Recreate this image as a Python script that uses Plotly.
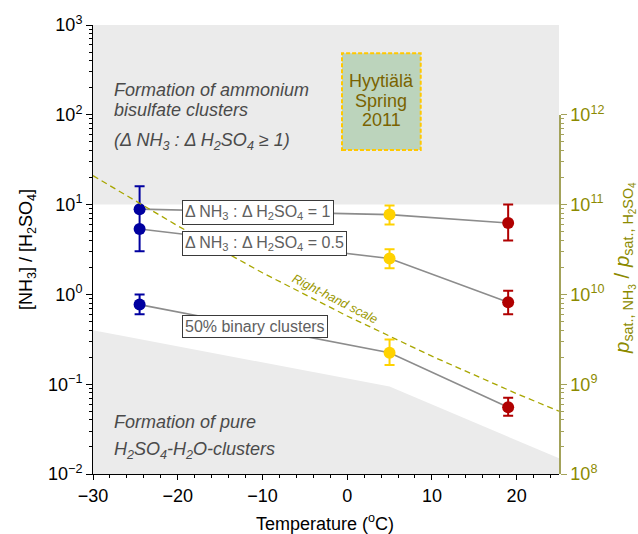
import plotly.graph_objects as go

# ---------------- data ----------------
temps = [-24.5, 5, 19]
marker_colors = ["#0000a0", "#ffd200", "#b00000"]

ratio_1 = [8.9, 7.74, 6.25]          # ΔNH3:ΔH2SO4 = 1
ratio_1_hi = [16.0, 9.8, 10.0]
ratio_1_lo = [5.35, 6.0, 3.98]

ratio_05 = [5.35, 2.51, 0.82]        # ΔNH3:ΔH2SO4 = 0.5
ratio_05_hi = [5.35, 3.19, 1.1]
ratio_05_lo = [3.03, 1.95, 0.6]

binary50 = [0.77, 0.224, 0.0555]     # 50% binary clusters
binary50_hi = [1.0, 0.315, 0.0705]
binary50_lo = [0.6, 0.164, 0.0445]

psat_temps = [-30, -20, -10, 0, 10, 20, 25]
psat_ratio = [2.1e11, 5.8e10, 1.74e10, 5.75e9, 2.05e9, 7.85e8, 5.0e8]

bisulfate_x = [-30, 25, 25, -30]
bisulfate_y = [10, 10, 1000, 1000]
pure_x = [-30, 5, 25, 25, -30]
pure_y = [0.4, 0.094, 0.015, 0.01, 0.01]

left_tickvals = [1e-2, 1e-1, 1e0, 1e1, 1e2, 1e3]
left_ticktext = ["10<sup>\u22122</sup>", "10<sup>\u22121</sup>", "10<sup>0</sup>",
                 "10<sup>1</sup>", "10<sup>2</sup>", "10<sup>3</sup>"]
right_tickvals = [1e8, 1e9, 1e10, 1e11, 1e12]
right_ticktext = ["10<sup>8</sup>", "10<sup>9</sup>", "10<sup>10</sup>",
                  "10<sup>11</sup>", "10<sup>12</sup>"]

# ---------------- styling ----------------
FONT = "Liberation Sans, Arial, sans-serif"
OLIVE = "#8c8a00"
OLIVE_AX = "#a3a25a"
GRAY_FILL = "#ebebeb"
LINE_GRAY = "#8c8c8c"
TXT_GRAY = "#4a4a4a"

L, R, T, B = 93, 559, 25, 474
W, H = 638, 534


def px(x):
    return (x - L) / (R - L)


def py(y):
    return (B - y) / (B - T)


fig = go.Figure()

# gray regions
fig.add_trace(go.Scatter(x=bisulfate_x, y=bisulfate_y, mode="none", fill="toself",
                         fillcolor=GRAY_FILL, hoverinfo="skip", showlegend=False))
fig.add_trace(go.Scatter(x=pure_x, y=pure_y, mode="none", fill="toself",
                         fillcolor=GRAY_FILL, hoverinfo="skip", showlegend=False))

# right-hand scale dashed line (drawn before markers)
fig.add_trace(go.Scatter(x=psat_temps, y=psat_ratio, mode="lines", yaxis="y2",
                         line=dict(color="#a8a600", width=1.3, dash="6px,4px"),
                         hoverinfo="skip", showlegend=False))

# connecting gray lines
for series in (ratio_1, ratio_05, binary50):
    fig.add_trace(go.Scatter(x=temps, y=series, mode="lines",
                             line=dict(color=LINE_GRAY, width=1.6),
                             hoverinfo="skip", showlegend=False))

# points with error bars, grouped by temperature (one colour each)
for i, col in enumerate(marker_colors):
    ys = [ratio_1[i], ratio_05[i], binary50[i]]
    his = [ratio_1_hi[i], ratio_05_hi[i], binary50_hi[i]]
    los = [ratio_1_lo[i], ratio_05_lo[i], binary50_lo[i]]
    fig.add_trace(go.Scatter(
        x=[temps[i]] * 3, y=ys, mode="markers",
        marker=dict(color=col, size=12, line=dict(width=0)),
        error_y=dict(type="data", symmetric=False,
                     array=[h - y for h, y in zip(his, ys)],
                     arrayminus=[y - l for y, l in zip(ys, los)],
                     color=col, thickness=2, width=5),
        showlegend=False))

annotations = []


def ann(text, x, y, size=18, color="black", xanchor="left", **kw):
    d = dict(text=text, x=x, y=y, xref="paper", yref="paper", showarrow=False,
             xanchor=xanchor, yanchor="middle",
             font=dict(family=FONT, size=size, color=color))
    d.update(kw)
    annotations.append(d)


# axis titles
ann("[NH<sub>3</sub>] / [H<sub>2</sub>SO<sub>4</sub>]", px(27), py(250),
    xanchor="center", textangle=-90)
ann("Temperature (<sup>o</sup>C)", px(325), py(522), xanchor="center")
ann("<i>p</i><sub>sat., NH<sub>3</sub></sub> / <i>p</i><sub>sat., H<sub>2</sub>SO<sub>4</sub></sub>",
    px(624), py(268), size=20.5, color=OLIVE, xanchor="center", textangle=-90)

# region labels
ann("<i>Formation of ammonium</i>", px(112), py(90.5), color=TXT_GRAY)
ann("<i>bisulfate clusters</i>", px(112), py(110.5), color=TXT_GRAY)
ann("<i>(\u0394 NH<sub>3</sub> : \u0394 H<sub>2</sub>SO<sub>4</sub> \u2265 1)</i>",
    px(112), py(141), color=TXT_GRAY)
ann("<i>Formation of pure</i>", px(112), py(421.8), color=TXT_GRAY)
ann("<i>H<sub>2</sub>SO<sub>4</sub>-H<sub>2</sub>O-clusters</i>", px(112), py(450),
    color=TXT_GRAY)

# boxed labels
box = dict(bgcolor="white", bordercolor="#3a3a3a", borderwidth=1, borderpad=2)
ann("\u0394 NH<sub>3</sub> : \u0394 H<sub>2</sub>SO<sub>4</sub> = 1", px(182), py(212),
    size=16, color="#606060", **box)
ann("\u0394 NH<sub>3</sub> : \u0394 H<sub>2</sub>SO<sub>4</sub> = 0.5", px(182), py(243),
    size=16, color="#606060", **box)
ann("50% binary clusters", px(182), py(326.5), size=16, color="#606060", **box)

# Hyytiälä box text
for txt, yy in (("Hyytiälä", 80.5), ("Spring", 100.5), ("2011", 120)):
    ann(txt, px(381.3), py(yy), color="#7a6300", xanchor="center")

# right-hand scale label
ann("<i>Right-hand scale</i>", px(335), py(299), size=12.5, color="#9a9800",
    xanchor="center", textangle=27)

shapes = [dict(type="rect", xref="paper", yref="paper",
               x0=px(342), x1=px(420.7), y0=py(150), y1=py(53.3),
               fillcolor="#bcd4bc", line=dict(color="#ffc800", width=2, dash="4px,2px"),
               layer="above")]

minor_left = [k * 10 ** e for e in range(-2, 3) for k in range(2, 10)]
minor_right = [k * 10 ** e for e in range(8, 12) for k in range(2, 10)]

fig.update_layout(
    width=W, height=H,
    margin=dict(l=L, r=W - R, t=T, b=H - B),
    paper_bgcolor="white", plot_bgcolor="rgba(0,0,0,0)",
    font=dict(family=FONT, size=18, color="black"),
    showlegend=False,
    xaxis=dict(range=[-30, 25], showline=True, linecolor="black", linewidth=1,
               ticks="outside", ticklen=5, tickwidth=1, tickcolor="black",
               dtick=10, tick0=0, showgrid=False, zeroline=False,
               tickfont=dict(size=18),
               minor=dict(ticks="outside", ticklen=3, dtick=2, tickcolor="black",
                          showgrid=False)),
    yaxis=dict(type="log", range=[-2, 3], showline=True, linecolor="black", linewidth=1,
               ticks="outside", ticklen=6, tickcolor="black",
               tickmode="array", tickvals=left_tickvals, ticktext=left_ticktext,
               tickfont=dict(size=18), showgrid=False, zeroline=False,
               minor=dict(ticks="outside", ticklen=3, tickmode="array",
                          tickvals=minor_left, tickcolor="black", showgrid=False)),
    yaxis2=dict(type="log", range=[8, 12], domain=[0, 0.8], anchor="x", side="right",
                showline=True, linecolor=OLIVE_AX, linewidth=1.5,
                ticks="outside", ticklen=6, tickcolor=OLIVE_AX,
                tickmode="array", tickvals=right_tickvals, ticktext=right_ticktext,
                tickfont=dict(size=18, color=OLIVE), showgrid=False, zeroline=False,
                minor=dict(ticks="outside", ticklen=3, tickmode="array",
                           tickvals=minor_right, tickcolor=OLIVE_AX, showgrid=False)),
    annotations=annotations,
    shapes=shapes,
)

fig.write_html("out.html", config={"displayModeBar": False},
               post_script="document.body.style.margin='0';document.body.style.overflow='hidden';")
